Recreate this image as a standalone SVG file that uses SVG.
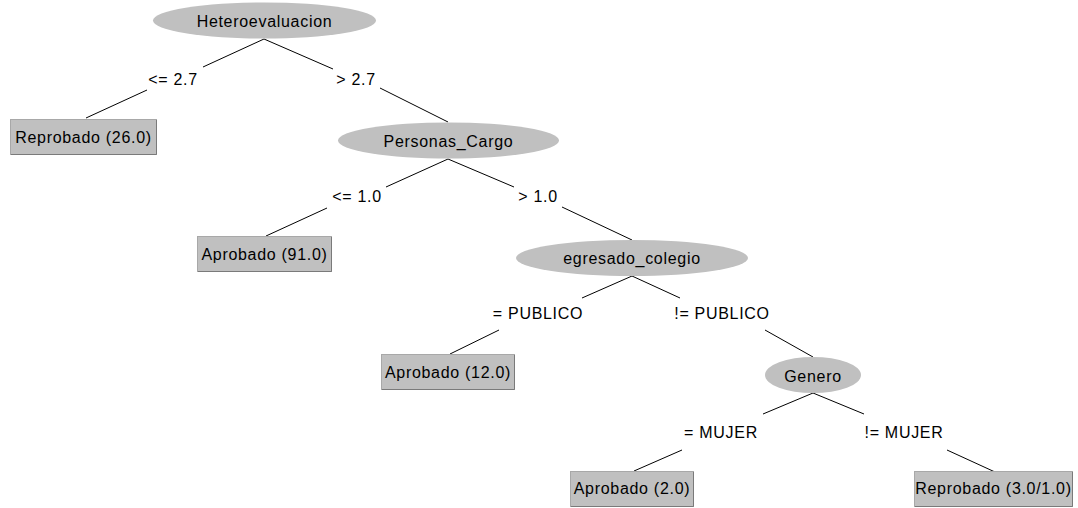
<svg xmlns="http://www.w3.org/2000/svg" width="1078" height="508" viewBox="0 0 1078 508">
  <style>
    text { font-family: "Liberation Sans", Arial, sans-serif; font-size: 16px; letter-spacing: 0.7px; fill: #000; text-anchor: middle; }
    .split { fill: #c0c0c0; stroke: none; }
    .leaf rect { fill: #c0c0c0; stroke: #a8a8a8; stroke-width: 1; }
    .leaf path { fill: none; stroke: #7a7a7a; stroke-width: 1; }
    #edges line { stroke: #000; stroke-width: 1; }
  </style>
  <rect width="1078" height="508" fill="#fff"/>

  <!-- connectors: each edge is drawn in two pieces around its label -->
  <g id="edges">
    <line x1="264" y1="39" x2="203" y2="67"/>
    <line x1="147" y1="90" x2="86" y2="118"/>
    <line x1="264" y1="39" x2="333" y2="69"/>
    <line x1="380" y1="88" x2="448" y2="122"/>

    <line x1="448" y1="159" x2="386" y2="187"/>
    <line x1="327" y1="208" x2="266" y2="236"/>
    <line x1="448" y1="159" x2="514" y2="187"/>
    <line x1="562" y1="207" x2="632" y2="240"/>

    <line x1="632" y1="276" x2="582" y2="298"/>
    <line x1="499" y1="330" x2="450" y2="354"/>
    <line x1="632" y1="276" x2="680" y2="298"/>
    <line x1="765" y1="330" x2="813" y2="357"/>

    <line x1="813" y1="393" x2="763" y2="414"/>
    <line x1="682" y1="450" x2="634" y2="471"/>
    <line x1="813" y1="393" x2="864" y2="414"/>
    <line x1="947" y1="450" x2="995" y2="472"/>
  </g>

  <!-- edge labels -->
  <g id="edge-labels">
    <text x="173" y="85">&lt;= 2.7</text>
    <text x="356" y="85">&gt; 2.7</text>
    <text x="357" y="202">&lt;= 1.0</text>
    <text x="538" y="202">&gt; 1.0</text>
    <text x="538" y="319">= PUBLICO</text>
    <text x="722" y="319">!= PUBLICO</text>
    <text x="721" y="438">= MUJER</text>
    <text x="904" y="438">!= MUJER</text>
  </g>

  <!-- split nodes -->
  <g id="n-heteroevaluacion">
    <ellipse class="split" cx="264.5" cy="20.5" rx="111.5" ry="18"/>
    <text x="264.5" y="27">Heteroevaluacion</text>
  </g>
  <g id="n-personas-cargo">
    <ellipse class="split" cx="448.5" cy="140.5" rx="110.5" ry="18"/>
    <text x="448.5" y="147">Personas_Cargo</text>
  </g>
  <g id="n-egresado-colegio">
    <ellipse class="split" cx="632" cy="258" rx="116" ry="18"/>
    <text x="632" y="264">egresado_colegio</text>
  </g>
  <g id="n-genero">
    <ellipse class="split" cx="813" cy="375" rx="48" ry="18"/>
    <text x="813" y="382">Genero</text>
  </g>

  <!-- leaf nodes -->
  <g id="leaf-reprobado-26" class="leaf">
    <rect x="10.5" y="119.5" width="146" height="35"/>
    <path d="M156.5 120 V154.5 H11"/>
    <text x="83.5" y="142.5">Reprobado (26.0)</text>
  </g>
  <g id="leaf-aprobado-91" class="leaf">
    <rect x="197.5" y="236.5" width="134" height="35"/>
    <path d="M331.5 237 V271.5 H198"/>
    <text x="264.5" y="259.5">Aprobado (91.0)</text>
  </g>
  <g id="leaf-aprobado-12" class="leaf">
    <rect x="381.5" y="354.5" width="133" height="35"/>
    <path d="M514.5 355 V389.5 H382"/>
    <text x="448" y="377.5">Aprobado (12.0)</text>
  </g>
  <g id="leaf-aprobado-2" class="leaf">
    <rect x="570.5" y="471.5" width="123" height="35"/>
    <path d="M693.5 472 V506.5 H571"/>
    <text x="632" y="494">Aprobado (2.0)</text>
  </g>
  <g id="leaf-reprobado-3" class="leaf">
    <rect x="914.5" y="471.5" width="158" height="35"/>
    <path d="M1072.5 472 V506.5 H915"/>
    <text x="993.5" y="494">Reprobado (3.0/1.0)</text>
  </g>
</svg>
